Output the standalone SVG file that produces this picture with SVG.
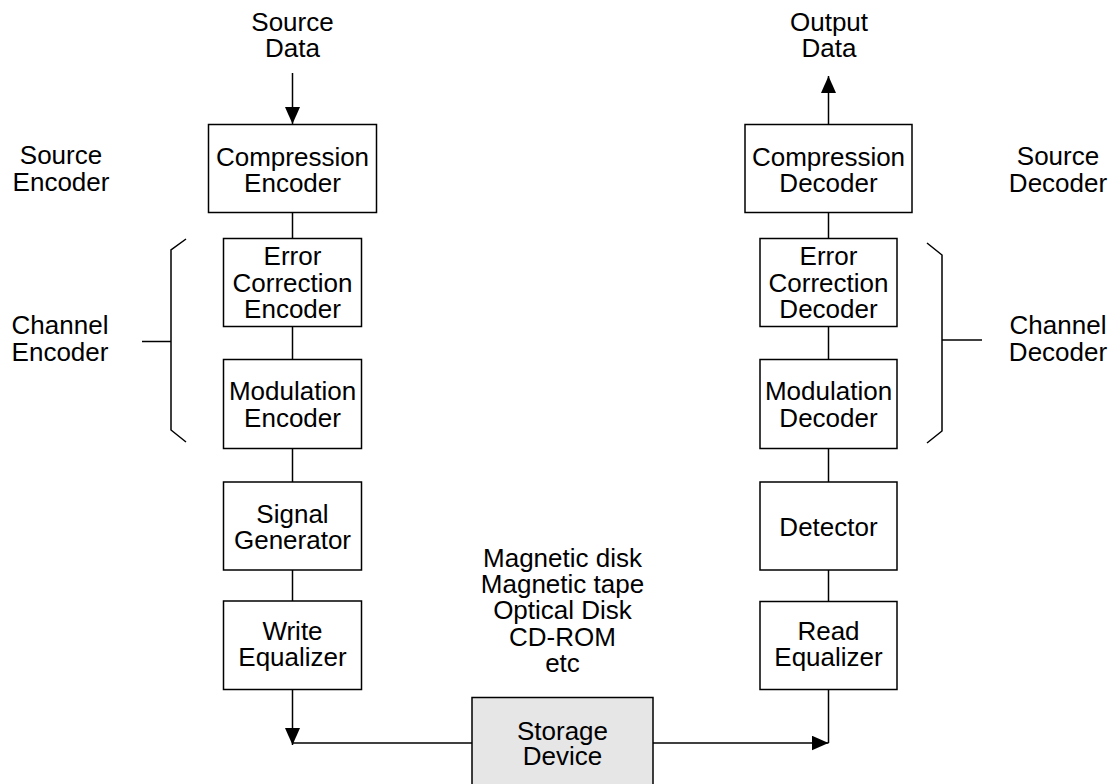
<svg xmlns="http://www.w3.org/2000/svg" width="1117" height="784" viewBox="0 0 1117 784">
<style>
text{font-family:"Liberation Sans",Arial,sans-serif;font-size:26px;fill:#000;text-anchor:middle}
.box{fill:#fff;stroke:#000;stroke-width:1.5}
.store{fill:#e6e6e6;stroke:#000;stroke-width:1.5}
.ln{fill:none;stroke:#000;stroke-width:1.5}
</style>
<defs>
<marker id="ah" markerUnits="userSpaceOnUse" markerWidth="17" markerHeight="15" refX="17" refY="7.5" orient="auto" viewBox="0 0 17 15">
<path d="M0,0 L17,7.5 L0,15 z" fill="#000"/>
</marker>
</defs>
<rect width="1117" height="784" fill="#fff"/>
<g id="connectors">
<line class="ln" x1="292.5" y1="73" x2="292.5" y2="124" marker-end="url(#ah)"/>
<line class="ln" x1="292.5" y1="212" x2="292.5" y2="238"/>
<line class="ln" x1="292.5" y1="327" x2="292.5" y2="359"/>
<line class="ln" x1="292.5" y1="448" x2="292.5" y2="482"/>
<line class="ln" x1="292.5" y1="570" x2="292.5" y2="601"/>
<line class="ln" x1="292.5" y1="689" x2="292.5" y2="745" marker-end="url(#ah)"/>
<line class="ln" x1="292.5" y1="743" x2="472" y2="743"/>
<line class="ln" x1="653" y1="743" x2="828.5" y2="743" marker-end="url(#ah)"/>
<line class="ln" x1="828.5" y1="689" x2="828.5" y2="743"/>
<line class="ln" x1="828.5" y1="570" x2="828.5" y2="602"/>
<line class="ln" x1="828.5" y1="448" x2="828.5" y2="482"/>
<line class="ln" x1="828.5" y1="327" x2="828.5" y2="359"/>
<line class="ln" x1="828.5" y1="212" x2="828.5" y2="238"/>
<line class="ln" x1="828.5" y1="124" x2="828.5" y2="76" marker-end="url(#ah)"/>
<polyline class="ln" points="186,239 171,250 171,430 186,442"/>
<line class="ln" x1="142" y1="341.5" x2="171" y2="341.5"/>
<polyline class="ln" points="927,243 942,255 942,431 927,443"/>
<line class="ln" x1="942" y1="340" x2="982" y2="340"/>
</g>
<g id="source-data"><text x="292.5" y="31">Source</text><text x="292.5" y="57">Data</text></g>
<g id="output-data"><text x="829" y="31">Output</text><text x="829" y="57">Data</text></g>
<g id="source-encoder-label"><text x="61" y="164">Source</text><text x="61" y="191">Encoder</text></g>
<g id="source-decoder-label"><text x="1058" y="165">Source</text><text x="1058" y="191.5">Decoder</text></g>
<g id="channel-encoder-label"><text x="60" y="334">Channel</text><text x="60" y="361">Encoder</text></g>
<g id="channel-decoder-label"><text x="1058" y="334">Channel</text><text x="1058" y="361">Decoder</text></g>
<g id="compression-encoder"><rect class="box" x="208.5" y="124.5" width="168" height="88"/><text x="292.5" y="165.5">Compression</text><text x="292.5" y="192">Encoder</text></g>
<g id="error-correction-encoder"><rect class="box" x="223.5" y="238.5" width="138" height="88"/><text x="292.5" y="265">Error</text><text x="292.5" y="291.5">Correction</text><text x="292.5" y="317.5">Encoder</text></g>
<g id="modulation-encoder"><rect class="box" x="223.5" y="359.5" width="138" height="89"/><text x="292.5" y="400">Modulation</text><text x="292.5" y="426.5">Encoder</text></g>
<g id="signal-generator"><rect class="box" x="223.5" y="482" width="138" height="88"/><text x="292.5" y="522.5">Signal</text><text x="292.5" y="548.5">Generator</text></g>
<g id="write-equalizer"><rect class="box" x="223.5" y="601" width="138" height="88.5"/><text x="292.5" y="639.5">Write</text><text x="292.5" y="666">Equalizer</text></g>
<g id="compression-decoder"><rect class="box" x="745" y="124.5" width="167" height="88"/><text x="828.5" y="165.5">Compression</text><text x="828.5" y="192">Decoder</text></g>
<g id="error-correction-decoder"><rect class="box" x="760" y="238.5" width="137" height="88"/><text x="828.5" y="265">Error</text><text x="828.5" y="291.5">Correction</text><text x="828.5" y="317.5">Decoder</text></g>
<g id="modulation-decoder"><rect class="box" x="760" y="359.5" width="137" height="89"/><text x="828.5" y="400">Modulation</text><text x="828.5" y="426.5">Decoder</text></g>
<g id="detector"><rect class="box" x="760" y="482" width="137" height="88"/><text x="828.5" y="536">Detector</text></g>
<g id="read-equalizer"><rect class="box" x="760" y="601.5" width="137" height="88"/><text x="828.5" y="639.5">Read</text><text x="828.5" y="666">Equalizer</text></g>
<g id="media-list"><text x="562.5" y="566.5">Magnetic disk</text><text x="562.5" y="592.5">Magnetic tape</text><text x="562.5" y="619">Optical Disk</text><text x="562.5" y="645.5">CD-ROM</text><text x="562.5" y="671.5">etc</text></g>
<g id="storage-device"><rect class="store" x="472" y="697.5" width="181" height="100"/><text x="562.5" y="740">Storage</text><text x="562.5" y="765">Device</text></g>
</svg>
